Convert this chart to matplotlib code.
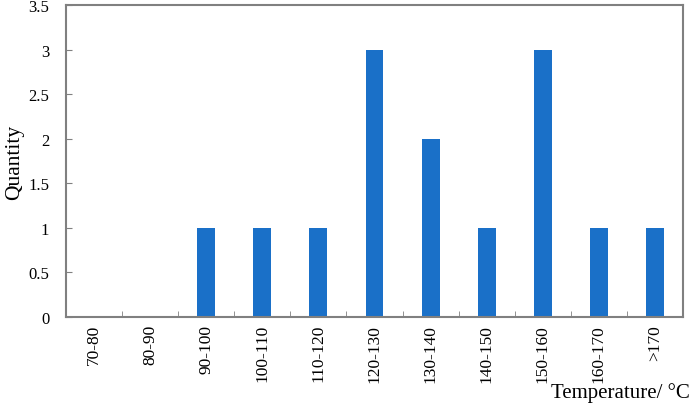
import matplotlib.pyplot as plt
import numpy as np

categories = ['70-80', '80-90', '90-100', '100-110', '110-120', '120-130',
              '130-140', '140-150', '150-160', '160-170', '>170']
quantity = [0, 0, 1, 1, 1, 3, 2, 1, 3, 1, 1]
yticks = [0, 0.5, 1, 1.5, 2, 2.5, 3, 3.5]
ytick_labels = ['0', '0.5', '1', '1.5', '2', '2.5', '3', '3.5']

plt.rcParams['font.family'] = ['Liberation Serif', 'DejaVu Serif']

fig = plt.figure(figsize=(6.92, 4.10), dpi=100)
ax = fig.add_axes([0.0954, 0.2244, 0.8916, 0.7610])

x = np.arange(len(categories))
ax.bar(x, quantity, width=0.32, color='#1a70c8', zorder=2)

ax.set_xlim(-0.5, len(categories) - 0.5)
ax.set_ylim(0, 3.5)
ax.set_yticks(yticks)
ax.set_yticklabels(ytick_labels, fontsize=12)
ax.set_xticks(x)
ax.set_xticklabels(categories, rotation=90, fontsize=12.5, va='top')
ax.set_xticks(np.arange(-0.5, len(categories)), minor=True)

ax.tick_params(axis='x', which='major', length=0, pad=5)
ax.tick_params(axis='x', which='minor', direction='in', length=4, color='#808080')
ax.tick_params(axis='y', direction='in', length=4, color='#808080', pad=12)

for s in ax.spines.values():
    s.set_color('#808080')
    s.set_linewidth(1.5)

ax.set_ylabel('Quantity', fontsize=15.5, labelpad=3)
fig.text(0.997, 0.016, 'Temperature/ °C', fontsize=15, ha='right', va='bottom')

plt.savefig('out.png', dpi=100)
